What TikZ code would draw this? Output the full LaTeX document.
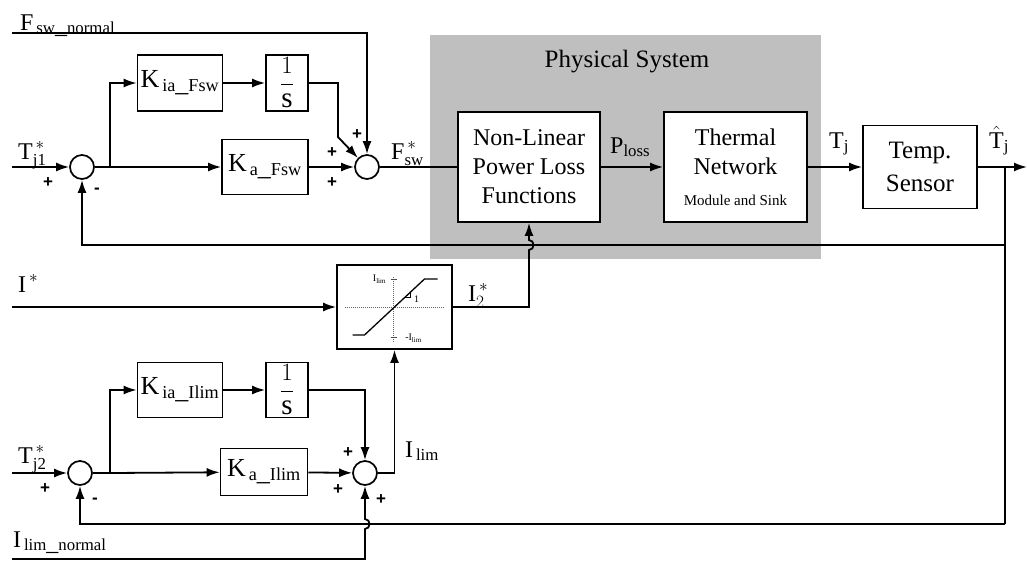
\documentclass[tikz,border=0pt]{standalone}
\usepackage{fontspec}
\setmainfont{Liberation Serif}
\newfontfamily\signfont{Liberation Sans}
\usetikzlibrary{arrows.meta,positioning,calc}

\tikzset{
  blk/.style={draw, line width=1.7pt, fill=white, inner sep=0pt, align=center,
    font=\fontsize{24}{29}\selectfont},
  sumj/.style={draw, circle, line width=1.7pt, fill=white, minimum size=24pt, inner sep=0pt},
  wire/.style={line width=1.8pt},
  sig/.style={line width=1.8pt, -{Latex[length=13pt,width=9pt]}},
  lbl/.style={inner sep=0pt, font=\fontsize{24}{28}\selectfont},
  pm/.style={inner sep=0pt, font=\signfont\bfseries\fontsize{17}{17}\selectfont},
  tiny/.style={inner sep=0pt, font=\fontsize{10}{11}\selectfont},
}

\begin{document}
\begin{tikzpicture}[x=1pt, y=-1pt]
\useasboundingbox (0,0) rectangle (1027,563);

% Physical system (shaded)
\node[fill=black!25, minimum width=391pt, minimum height=224pt, inner sep=0pt] (phys) at (625.5,147) {};
\node[lbl, anchor=base, font=\fontsize{25}{29}\selectfont] (physlbl) at (627,67) {Physical System};

% Upper loop: switching frequency
\coordinate (tin1) at (12,167);
\coordinate (fnin) at (12,33);
\node[sumj] (sum1) at (82,167) {};
\coordinate (br1) at (110,167);
\node[blk, minimum width=85pt, minimum height=56pt, font=\fontsize{26}{29}\selectfont] (kiF) at (180,83) {K$_{\,\mathrm{ia\_Fsw}}$};
\node[blk, minimum width=42pt, minimum height=56pt, font=\fontsize{29}{32}\selectfont] (intF) at (287,83) {$\displaystyle\frac{1}{\mathrm{s}}$};
\node[blk, minimum width=86pt, minimum height=55pt, font=\fontsize{26}{29}\selectfont] (kaF) at (265,167) {K$_{\,\mathrm{a\_Fsw}}$};
\node[sumj] (sum2) at (367,167) {};
\coordinate (c2) at (338,137);

% Plant and sensor
\node[blk, minimum width=142pt, minimum height=110pt] (nl) at (529,167) {Non-Linear\\Power Loss\\Functions};
\node[blk, minimum width=143pt, minimum height=110pt] (th) at (735.5,167) {Thermal\\Network\\[2pt]{\fontsize{15}{17}\selectfont Module and Sink}};
\node[blk, minimum width=114pt, minimum height=83pt, font=\fontsize{25}{33}\selectfont] (ts) at (920,167) {Temp.\\Sensor};
\coordinate (br2) at (1005,167);
\coordinate (tout) at (1027,167);
\coordinate (fb1) at (1005,245);
\coordinate (fb2) at (1005,524);

% Current limiter
\coordinate (iin) at (12,307);
\node[draw, line width=1.7pt, fill=white, minimum width=115pt, minimum height=84pt, inner sep=0pt] (sat) at (394.5,307) {};
\coordinate (j1a) at (529,250);
\coordinate (j1b) at (529,240);

% Lower loop: current limit
\coordinate (tin2) at (12,473);
\coordinate (lnin) at (12,559);
\node[sumj] (sum4) at (80,473) {};
\coordinate (br3) at (110,473);
\node[blk, minimum width=85pt, minimum height=55pt, font=\fontsize{26}{29}\selectfont] (kiI) at (180,390) {K$_{\,\mathrm{ia\_Ilim}}$};
\node[blk, minimum width=42pt, minimum height=55pt, font=\fontsize{29}{32}\selectfont] (intI) at (287,390) {$\displaystyle\frac{1}{\mathrm{s}}$};
\node[blk, minimum width=87pt, minimum height=47pt, font=\fontsize{26}{29}\selectfont] (kaI) at (264,472) {K$_{\,\mathrm{a\_Ilim}}$};
\node[sumj] (sum3) at (365,473) {};
\coordinate (j2a) at (365,529);
\coordinate (j2b) at (365,519);

% Saturation characteristic
\begin{scope}[shift={(sat.center)}]
  \draw[densely dotted, line width=1pt, black!60] (-50,0) -- (50,0);
  \draw[densely dotted, line width=1pt, black!60] (-1,-30) -- (-1,36);
  \draw[line width=1.3pt] (-42,28) -- (-30,28) -- (30,-28) -- (43,-28);
  \draw[line width=0.7pt, black!70] (-4,-28) -- (2,-28) (-4,30) -- (2,30);
  \draw[line width=0.7pt] (10,-9.3) -- (16,-9.3) -- (16,-15);
  \node[tiny] (satmax) at (-15,-28) {I$_{\mathrm{lim}}$};
  \node[tiny] (satmin) at (19,31) {-I$_{\mathrm{lim}}$};
  \node[tiny] (satone) at (22,-8) {1};
\end{scope}

% Connectors, upper loop
\draw[sig] (tin1) -- (sum1);
\draw[wire] (sum1) -- (br1);
\draw[sig] (br1) |- (kiF);
\draw[sig] (kiF) -- (intF);
\draw[sig] (br1) -- (kaF);
\draw[sig] (kaF) -- (sum2);
\draw[sig] (intF.east) -| (c2) -- (sum2.135);
\draw[sig] (fnin) -| (sum2.north);
\draw[wire] (sum2) -- (nl);
\draw[sig] (nl) -- (th);
\draw[sig] (th) -- (ts);
\draw[sig] (ts) -- (tout);

% Feedback paths
\draw[wire] (br2) -- (fb2);
\draw[sig] (fb1) -| (sum1.south);
\draw[sig] (fb2) -| (sum4.south);

% Limiter connectors (with jumps)
\draw[sig] (iin) -- (sat);
\draw[sig] (sat.east) -| (j1a) .. controls +(6,0) and +(6,0) .. (j1b) -- (nl.south);

% Connectors, lower loop
\draw[sig] (tin2) -- (sum4);
\draw[wire] (sum4) -- (br3);
\draw[sig] (br3) |- (kiI);
\draw[sig] (kiI) -- (intI);
\draw[sig] (br3) -- (kaI);
\draw[sig] (kaI) -- (sum3);
\draw[sig] (intI.east) -| (sum3.north);
\draw[sig] (sum3.east) -| (sat.south);
\draw[sig] (lnin) -| (j2a) .. controls +(6,0) and +(6,0) .. (j2b) -- (sum3.south);

% Signal labels
\node[lbl, anchor=base west] (lfn) at (20,30) {F$_{\,\mathrm{sw\_normal}}$};
\node[lbl, anchor=base west] (ltj1) at (18,159) {T$_{\mathrm{j1}}^{\,*}$};
\node[lbl, anchor=base west] (lfsw) at (391,159) {F$_{\mathrm{sw}}^{\,*}$};
\node[lbl, anchor=base west] (lploss) at (610,153) {P$_{\mathrm{loss}}$};
\node[lbl, anchor=base west] (ltj) at (829,148) {T$_{\mathrm{j}}$};
\node[lbl, anchor=base west] (ltjh) at (989,148) {$\hat{\mathrm{T}}_{\mathrm{j}}$};
\node[lbl, anchor=base west] (listar) at (18,292) {I$^{\,*}$};
\node[lbl, anchor=base west] (li2) at (468,301) {I$_{2}^{\,*}$};
\node[lbl, anchor=base west] (lilim) at (405,457) {I$_{\,\mathrm{lim}}$};
\node[lbl, anchor=base west] (ltj2) at (18,463) {T$_{\mathrm{j2}}^{\,*}$};
\node[lbl, anchor=base west] (lln) at (13,547) {I$_{\,\mathrm{lim\_normal}}$};

% Summing signs
\foreach \n/\x/\y/\s in {s1a/48/183/+, s1b/97/191/-, s2a/357/135/+, s2b/332/153/+, s2c/332/183/+,
  s4a/45/489/+, s4b/95/501/-, s3a/348/453/+, s3b/338/490/+, s3c/381/500/+}
  \node[pm] (\n) at (\x,\y) {\s};

\end{tikzpicture}
\end{document}
